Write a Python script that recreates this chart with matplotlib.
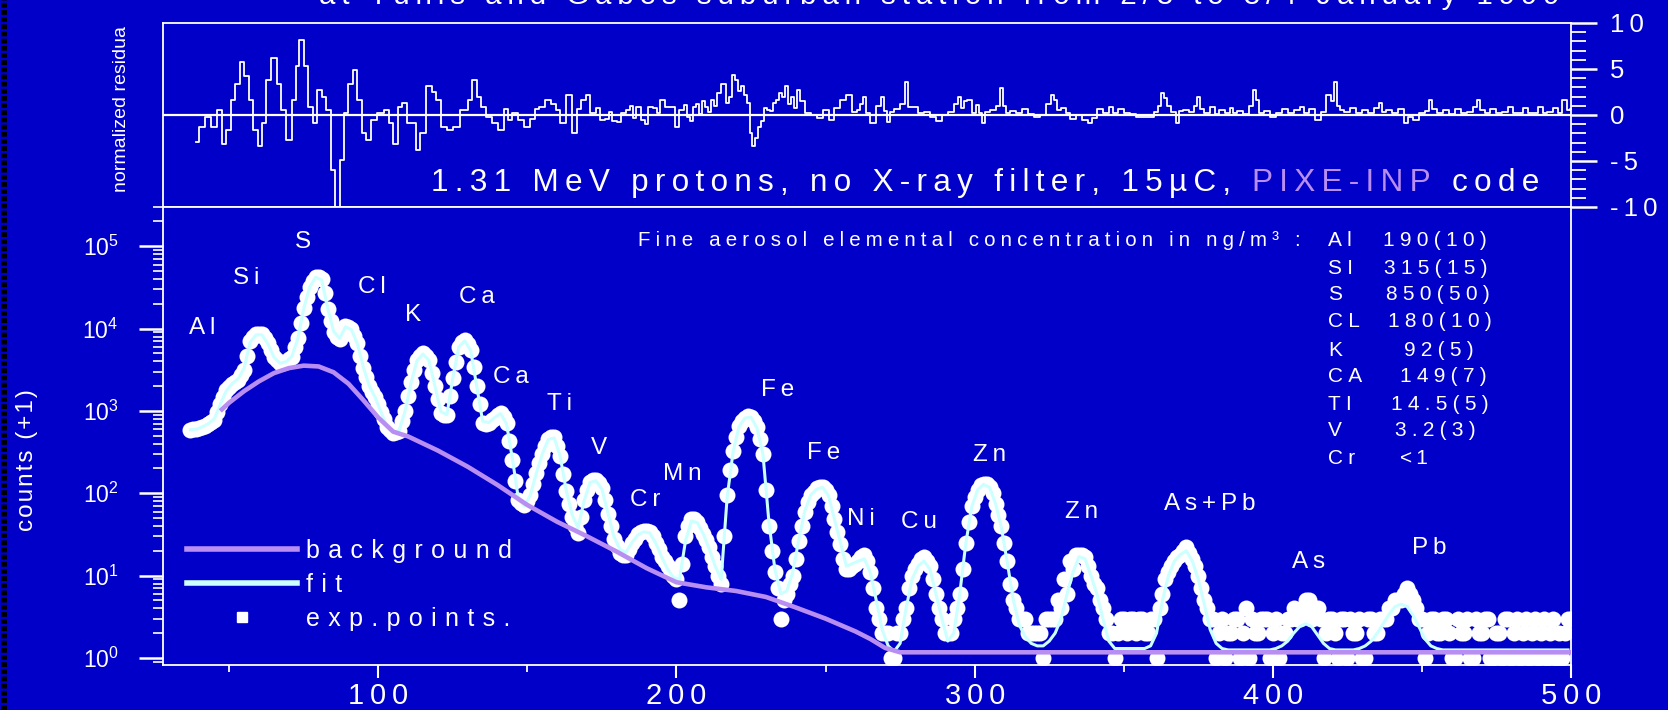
import numpy as np
import matplotlib
matplotlib.use('Agg')
import matplotlib.pyplot as plt
from matplotlib.lines import Line2D
from matplotlib.ticker import FixedLocator, FuncFormatter, LogLocator, NullFormatter

# ---------------------------------------------------------------- data
channels = list(range(37, 500, 2))          # odd channels
exp_counts = [
    590, 600, 630, 690, 780, 1230, 1780, 2140, 2400, 3160,
    7080, 8500, 8500, 6600, 4570, 3800, 3980, 4570, 7600, 17800,
    31600, 42700, 39800, 17400, 9100, 7400, 10700, 9800, 6600, 3300,
    2000, 1480, 980, 630, 540, 575, 1000, 2240, 4170, 5000,
    4170, 2000, 950, 890, 2510, 6030, 7240, 5500, 2000, 720,
    720, 830, 950, 710, 250, 83, 72, 95, 178, 300,
    457, 480, 280, 107, 52, 33, 83, 138, 145, 115,
    56, 28, 19, 18, 25, 32, 35, 34, 25, 17,
    13, 10, 5, 30, 48, 45, 32, 22, 13, 8,
    95, 330, 660, 830, 850, 630, 300, 40, 11, 3,
    6, 10, 26, 60, 95, 115, 120, 95, 48, 24,
    12, 13, 15, 18, 11, 4, 2, 2, 1, 2,
    4, 10, 14, 17, 13, 6, 3, 2, 3, 6,
    25, 70, 110, 130, 120, 75, 40, 15, 5, 3,
    3, 2, 2, 1, 3, 3, 4, 6, 12, 18,
    17, 10, 7, 4, 2, 1, 3, 2, 3, 3,
    2, 3, 1, 6, 11, 15, 18, 22, 16, 10,
    5, 3, 1, 3, 2, 3, 1, 4, 3, 2,
    3, 1, 3, 2, 3, 4, 3, 5, 3, 4,
    1, 3, 2, 3, 1, 2, 3, 1, 3, 2,
    3, 4, 5, 5, 7, 5, 3, 1, 3, 2,
    3, 2, 1, 2, 3, 1, 2, 3, 1, 2,
    1, 3, 2, 1, 3, 2, 1, 3, 2, 1,
    1, 3]
channels_even = list(range(38, 501, 2))     # even channels
exp_counts_even = [
    595, 615, 660, 730, 980, 1480, 1950, 2270, 2750, 4700,
    7900, 8700, 7600, 5500, 4100, 3850, 4250, 5900, 11600, 24000,
    37500, 42000, 27000, 12500, 8000, 9000, 10500, 8200, 4700, 2600,
    1720, 1200, 790, 580, 550, 760, 1500, 3100, 4700, 4700,
    2900, 1380, 900, 1500, 3900, 6800, 6500, 3400, 1200, 700,
    770, 900, 850, 430, 140, 76, 80, 130, 235, 380,
    480, 380, 170, 75, 40, 52, 110, 145, 132, 82,
    40, 23, 18, 21, 28, 34, 35, 30, 21, 15,
    11, 9, 14, 40, 48, 38, 27, 17, 10, 30,
    190, 480, 760, 860, 760, 450, 110, 20, 7, 5,
    8, 16, 40, 78, 105, 120, 110, 70, 34, 16,
    12, 14, 17, 15, 7, 3, 2, 1, 2, 3,
    7, 12, 16, 15, 9, 4, 2, 2, 4, 12,
    45, 90, 125, 128, 100, 55, 25, 8, 4, 3,
    2, 2, 2, 3, 3, 5, 9, 15, 18, 18,
    13, 8, 5, 3, 2, 2, 3, 3, 2, 3,
    2, 3, 4, 9, 13, 17, 20, 19, 13, 7,
    4, 3, 2, 1, 2, 3, 2, 1, 2, 3,
    3, 2, 1, 2, 3, 3, 4, 5, 4, 3,
    2, 3, 1, 3, 3, 2, 1, 3, 2, 3,
    3, 4, 5, 6, 6, 4, 3, 2, 3, 2,
    3, 1, 3, 2, 1, 3, 2, 3, 1, 2,
    3, 1, 3, 2, 1, 3, 2, 1, 3, 2,
    2, 3]
fit_counts = [
    590, 600, 640, 700, 800, 1200, 1750, 2150, 2450, 3300,
    6800, 8400, 8400, 6500, 4500, 3800, 3950, 4600, 7500, 17500,
    32000, 42000, 39000, 18000, 9300, 7600, 10500, 9700, 6500, 3400,
    2000, 1450, 950, 640, 545, 580, 1000, 2200, 4100, 4900,
    4100, 2000, 980, 900, 2500, 6000, 7100, 5400, 2000, 750,
    720, 830, 930, 700, 260, 85, 70, 95, 175, 300,
    450, 470, 280, 110, 55, 38, 80, 135, 142, 112,
    58, 30, 21, 19, 25, 31, 34, 33, 25, 17,
    12, 9.5, 9, 26, 46, 44, 32, 21, 13, 9,
    90, 320, 650, 820, 840, 620, 300, 45, 12, 6,
    6.5, 11, 27, 60, 95, 112, 118, 93, 48, 25,
    13, 14, 15, 16, 11, 5, 2.2, 1.4, 1.2, 1.5,
    4, 9, 13, 15, 12, 6, 3, 1.6, 2, 6,
    24, 68, 110, 128, 118, 75, 38, 14, 5, 2.5,
    1.8, 1.5, 1.4, 1.4, 1.6, 2, 3, 6, 11, 17,
    16, 10, 6, 3, 1.6, 1.3, 1.3, 1.3, 1.3, 1.3,
    1.3, 1.4, 2, 5, 10, 15, 18, 20, 15, 9,
    4.5, 2.2, 1.5, 1.3, 1.25, 1.25, 1.25, 1.25, 1.25, 1.25,
    1.25, 1.25, 1.3, 1.4, 1.6, 2.0, 2.4, 2.6, 2.4, 1.9,
    1.5, 1.3, 1.25, 1.25, 1.25, 1.25, 1.3, 1.4, 1.6, 2.0,
    2.6, 3.4, 4.2, 4.5, 4.2, 3.3, 2.4, 1.7, 1.4, 1.3,
    1.25, 1.25, 1.25, 1.25, 1.25, 1.25, 1.25, 1.25, 1.25, 1.25,
    1.25, 1.25, 1.25, 1.25, 1.25, 1.25, 1.25, 1.25, 1.25, 1.25,
    1.25, 1.25]
bg_channels = [47, 50, 55, 60, 65, 70, 75, 80, 85, 90,
               95, 100, 105, 110, 120, 130, 140, 150, 160, 170,
               180, 190, 200, 210, 220, 230, 240, 250, 260, 265,
               270, 275, 300, 350, 400, 450, 500]
bg_counts = [1000, 1260, 1740, 2290, 2880, 3310, 3550, 3470, 2950, 2140,
             1350, 830, 560, 490, 330, 210, 126, 72, 45, 30,
             19.5, 12.3, 8.3, 7.2, 6.5, 5.5, 4.1, 3.0, 2.1, 1.7,
             1.32, 1.17, 1.17, 1.17, 1.17, 1.17, 1.17]
# normalized residuals: (channel, value)
res_points = [
    (39, -2.9), (41, -1.3), (43, -0.2), (45, -1.3), (47, 0.5), (48, -3.1), (50, -1.6),
    (51, 1.6), (53, 3.4), (54, 5.8), (56, 4.2), (57, 1.6), (59, -1.6), (60, -3.4),
    (62, -0.9), (63, 3.8), (65, 6.2), (67, 3.4), (68, 0.5), (70, -2.7), (72, 1.6),
    (73, 5.3), (74, 8.2), (76, 5.3), (77, 0.9), (79, -0.9), (80, 2.7), (82, 2.0),
    (83, 0.5), (85, -6.0), (86, -10.9), (88, -4.9), (89, 0.2), (91, 3.4), (92, 4.9),
    (94, 1.6), (95, -2.0), (97, -2.7), (98, -0.5), (101, 0.2), (103, 0.5), (104, -0.9),
    (106, -3.1), (107, 0.9), (109, 1.3), (110, -0.9), (112, -0.9), (113, -3.8),
    (115, -2.0), (117, 3.1), (119, 2.5), (120, 1.6), (122, -1.3), (124, -1.6),
    (126, -1.3), (129, 0.5), (131, 1.6), (132, 3.8), (134, 2.0), (135, 0.9),
    (137, -0.2), (139, -0.9), (141, -1.6), (143, 0.6), (144, -0.5), (146, 0.2),
    (148, -0.5), (150, -1.3), (152, -0.4), (153, 0.7), (155, 0.9), (157, 1.6),
    (159, 1.2), (160, 0.5), (162, -0.9), (164, 2.2), (166, -2.0), (167, 0.6),
    (169, 1.6), (170, 2.2), (172, 0.2), (174, 0.8), (175, -0.5), (177, -0.4),
    (178, 0.3), (179, -0.7), (181, -0.8), (182, 0.2), (184, 0.5), (185, 1.0),
    (186, -0.3), (187, 0.9), (189, -0.5), (190, -1.0), (191, 0.9), (193, 0.8),
    (194, 0.2), (195, 1.6), (197, 0.9), (199, 0.9), (200, -1.3), (202, 0.5),
    (203, 1.1), (204, -0.2), (205, -0.6), (206, 0.9), (207, 1.2), (208, 0.1),
    (209, 1.5), (210, 0.9), (211, 0.3), (212, 1.6), (213, 1.0), (214, 2.4),
    (216, 3.4), (217, 1.3), (218, 2.0), (219, 4.3), (220, 3.8), (221, 2.6),
    (222, 3.1), (223, 2.2), (224, 1.3), (225, -2.0), (226, -3.4), (227, -2.5),
    (228, -1.3), (229, -0.6), (230, 0.8), (231, 0.5), (232, 0.4), (233, 1.3),
    (234, 1.6), (235, 2.4), (236, 2.0), (237, 3.1), (238, 1.2), (239, 2.0),
    (240, 0.8), (241, 2.7), (242, 1.5), (244, 0.2), (246, 0.0), (248, -0.3),
    (250, 0.5), (252, -0.5), (254, 0.8), (256, 1.6), (258, 2.2), (260, 0.3),
    (261, 0.5), (262, 1.2), (263, 2.0), (264, 0.2), (266, -0.9), (268, 1.0),
    (269, 2.0), (270, 0.4), (271, -0.8), (272, 0.3), (274, 0.6), (276, 1.2),
    (277, 3.6), (278, 0.9), (280, 0.9), (282, 0.2), (284, 0.3), (286, -0.2),
    (288, -0.6), (290, 0.0), (292, 0.3), (294, 1.2), (295, 2.0), (296, 0.8),
    (297, 1.5), (298, 1.6), (300, 0.2), (301, 1.1), (302, 0.2), (303, -0.9),
    (304, 0.3), (306, 0.5), (308, 1.0), (309, 2.9), (310, 1.0), (311, 0.2),
    (313, 0.4), (315, 0.2), (317, 0.6), (319, 0.1), (321, -0.2), (323, 0.0),
    (325, 1.2), (326, 2.2), (327, 1.6), (328, 0.5), (330, 0.8), (331, 0.2),
    (333, -0.4), (335, 0.0), (337, -0.5), (339, -0.9), (340, -0.3), (342, 0.7),
    (344, 0.2), (346, 0.9), (347, 0.2), (349, 0.6), (351, 0.2), (353, 0.1),
    (355, -0.2), (357, -0.2), (359, -0.2), (361, 0.3), (362, 1.0), (363, 2.4),
    (364, 1.8), (365, 1.0), (367, 0.3), (368, -0.9), (369, 0.4), (371, 0.5),
    (373, 0.3), (374, 1.0), (375, 2.0), (376, 0.6), (378, 0.2), (380, 0.9),
    (381, 0.1), (383, 0.5), (385, 0.2), (386, 0.8), (387, 0.2), (389, 0.4),
    (391, 0.1), (393, 1.0), (394, 2.7), (395, 1.6), (396, 0.2), (398, 0.4),
    (400, -0.2), (402, 0.2), (404, 0.7), (406, 0.2), (408, 0.5), (410, 0.9),
    (411, 0.2), (413, 0.6), (415, -0.5), (417, 0.3), (419, 2.2), (420, 1.5),
    (421, 3.6), (422, 1.0), (423, 0.5), (425, 0.3), (427, 0.8), (429, 0.2),
    (431, 0.5), (433, 0.2), (435, 0.8), (436, 1.3), (437, 0.3), (439, 0.5),
    (441, 0.2), (443, 0.6), (445, -0.9), (446, -0.2), (448, -0.5), (450, 0.2),
    (452, 0.4), (453, 1.6), (454, 0.6), (456, 0.2), (458, 0.5), (460, 0.1),
    (462, 0.6), (464, 0.2), (466, 0.3), (468, 0.9), (469, 1.6), (470, 0.5),
    (472, 0.2), (474, 0.7), (476, 0.2), (478, 0.3), (480, 0.9), (481, 0.2),
    (483, 0.2), (485, 0.8), (486, 0.2), (488, 0.2), (490, 0.9), (491, 0.2),
    (493, 0.3), (495, 0.8), (496, 0.2), (498, 1.6), (499, 0.5), (500, 0.6)]
res_channels = [p[0] for p in res_points]
res_values = [p[1] for p in res_points]

peak_labels = ['Al', 'Si', 'S', 'Cl', 'K', 'Ca', 'Ca', 'Ti', 'V', 'Cr',
               'Mn', 'Fe', 'Fe', 'Ni', 'Cu', 'Zn', 'Zn', 'As+Pb', 'As', 'Pb']
peak_label_ch = [40.9, 55.7, 74.8, 98, 111.8, 132.9, 144.5, 160.8, 173.9, 189.5,
                 202, 233.8, 249.5, 262, 281.3, 305, 335.7, 378.9, 412, 452.6]
peak_label_counts = [10200, 40700, 112000, 32400, 14800, 24000, 2570, 1230, 355, 83,
                     170, 1820, 310, 49, 45, 295, 60, 74, 14.8, 21.4]
conc_elements = ['Al', 'SI', 'S', 'CL', 'K', 'CA', 'TI', 'V', 'Cr']
conc_values = ['190(10)', '315(15)', '850(50)', '180(10)', '92(5)',
               '149(7)', '14.5(5)', '3.2(3)', '<1']
x_ticks = [100, 200, 300, 400, 500]
x_minor = [50, 150, 250, 350, 450]
y_ticks = [1, 10, 100, 1000, 10000, 100000]
res_ticks = [-10, -5, 0, 5, 10]
legend_labels = ['background', 'fit', 'exp.points.']
title_text = 'at Tunis and Gabes suburban station from 2/3 to 3/4 January 1999'
info_parts = ['1.31 MeV protons, no X-ray filter, 15\u00b5C, ', 'PIXE-INP', ' code']
conc_title = 'Fine aerosol elemental concentration in ng/m\u00b3 :'

# ---------------------------------------------------------------- style
BLUE = '#0000C8'
LAV = '#B98EF2'
CYAN = '#CCFFFF'
WHITE = '#FFFFFF'
THIN = '\u2009'
plt.rcParams['font.family'] = ['Liberation Sans', 'DejaVu Sans']

W, H = 1668, 710
fig = plt.figure(figsize=(W / 100, H / 100), dpi=100)
fig.patch.set_facecolor(BLUE)
RND = fig.canvas.get_renderer()


def fxy(x, y):
    return x / W, 1 - y / H


SEPS = ['', '\u200a', '\u2009', '\u2005', '\u2004', '\u2002', '\u2003']


def text_w(s, **kw):
    t = fig.text(0, 0, s, **kw)
    w = t.get_window_extent(RND).width
    t.remove()
    return w


def pick_sep(s, target, **kw):
    return min(SEPS, key=lambda sp: abs(text_w(sp.join(s), **kw) - target))


def advance(s, **kw):
    return text_w(s + '|', **kw) - text_w('|', **kw)


def tracked(x, y, s, target, fontsize, exact=False, **kw):
    sep = pick_sep(s, target, fontsize=fontsize, **kw)
    txt = sep.join(s)
    if exact:
        fontsize = fontsize * target / text_w(txt, fontsize=fontsize, **kw)
    return fig.text(*fxy(x, y), txt, fontsize=fontsize, **kw)


L_PX, R_PX = 163, 1571
RES_TOP, SEP_Y, MAIN_BOT = 23, 207, 665

ax_res = fig.add_axes([L_PX / W, 1 - SEP_Y / H, (R_PX - L_PX) / W, (SEP_Y - RES_TOP) / H])
ax = fig.add_axes([L_PX / W, 1 - MAIN_BOT / H, (R_PX - L_PX) / W, (MAIN_BOT - SEP_Y) / H])

for a in (ax, ax_res):
    a.set_facecolor(BLUE)
    for s in a.spines.values():
        s.set_color(WHITE)
        s.set_linewidth(1.3)

# ---------------------------------------------------------------- main spectrum
ax.set_yscale('log')
ax.set_xlim(27.8, 500)
ax.set_ylim(0.82, 3e5)
ax.plot(channels + channels_even, exp_counts + exp_counts_even, ls='none', marker='o',
        ms=11.5, mfc=WHITE, mec=WHITE, mew=0, zorder=3)
ax.plot(channels, fit_counts, color=CYAN, lw=2.2, zorder=4)
ax.plot(bg_channels, bg_counts, color=LAV, lw=3.3, zorder=5, solid_capstyle='butt')

ax.xaxis.set_major_locator(FixedLocator(x_ticks))
ax.xaxis.set_minor_locator(FixedLocator(x_minor))
ax.xaxis.set_major_formatter(FuncFormatter(lambda v, p: THIN.join(str(int(v)))))
ax.yaxis.set_major_locator(FixedLocator(y_ticks))
ax.yaxis.set_minor_locator(LogLocator(base=10, subs=np.arange(2, 10), numticks=30))
ax.yaxis.set_minor_formatter(NullFormatter())
ax.yaxis.set_major_formatter(FuncFormatter(
    lambda v, p: r'$\mathregular{10^{%d}}$' % int(round(np.log10(v)))))
ax.tick_params(axis='x', which='major', direction='out', length=9.5, width=1.5,
               colors=WHITE, labelsize=21, pad=3)
ax.tick_params(axis='x', which='minor', direction='out', length=5, width=1.3, colors=WHITE)
ax.tick_params(axis='y', which='major', direction='out', length=17, width=1.8,
               colors=WHITE, labelsize=16.5, pad=15)
ax.tick_params(axis='y', which='minor', direction='out', length=7.5, width=1.2, colors=WHITE)

for lbl, c, n in zip(peak_labels, peak_label_ch, peak_label_counts):
    ax.text(c, n, THIN.join(lbl), color=WHITE, fontsize=17.5, ha='center', va='center',
            zorder=6)

leg_sep = pick_sep(legend_labels[0], 200, fontsize=18)
handles = [Line2D([], [], color=LAV, lw=4),
           Line2D([], [], color=CYAN, lw=4),
           Line2D([], [], ls='none', marker='s', ms=6.5, mfc=WHITE, mec=WHITE)]
leg = ax.legend(handles, [leg_sep.join(t) for t in legend_labels],
                loc='upper left', bbox_to_anchor=fxy(187, 539), bbox_transform=fig.transFigure,
                frameon=False, fontsize=18, labelcolor=WHITE, handlelength=4.4,
                handletextpad=0.35, labelspacing=0.4, borderpad=0, borderaxespad=0,
                numpoints=1)

# ---------------------------------------------------------------- residual panel
ax_res.set_xlim(27.8, 500)
ax_res.set_ylim(-10, 10)
ax_res.axhline(0, color=WHITE, lw=1.6, zorder=2)
ax_res.plot(res_channels, res_values, color=WHITE, lw=1.3, drawstyle='steps-mid',
            clip_on=False, zorder=3)
ax_res.tick_params(axis='x', which='both', bottom=False, top=False, labelbottom=False)
ax_res.yaxis.tick_right()
ax_res.yaxis.set_major_locator(FixedLocator(res_ticks))
ax_res.yaxis.set_minor_locator(FixedLocator(list(range(-10, 11))))
ax_res.yaxis.set_major_formatter(FuncFormatter(lambda v, p: THIN.join(str(int(v)))))
ax_res.tick_params(axis='y', which='major', direction='out', length=19, width=1.8,
                   colors=WHITE, labelsize=18.5, pad=9)
ax_res.tick_params(axis='y', which='minor', direction='out', length=11, width=1.3,
                   colors=WHITE)

# ---------------------------------------------------------------- texts
# title (cut by the top edge, as in the original image)
tracked(319, 4.5, title_text, 1238, 22, exact=True, color=WHITE, ha='left', va='baseline')

# info line inside the residual panel
info_kw = dict(ha='left', va='baseline')
full_info = ''.join(info_parts)
sep = pick_sep(full_info, 1110, fontsize=22, **info_kw)
info_fs = 22 * 1110 / text_w(sep.join(full_info), fontsize=22, **info_kw)
x = 431
for i, (p, col) in enumerate(zip(info_parts, [WHITE, LAV, WHITE])):
    s = sep.join(p) + (sep if i < len(info_parts) - 1 else '')
    fig.text(*fxy(x, 191), s, color=col, fontsize=info_fs, **info_kw)
    x += advance(s, fontsize=info_fs, **info_kw)

# concentration table
tracked(638, 245.5, conc_title, 662, 14.5, exact=True, color=WHITE, ha='left',
        va='baseline')
row_y = [239, 266, 293, 320, 348, 375, 403, 429, 457]
val_x = [1383, 1384, 1386, 1388, 1404, 1400, 1391, 1395, 1400]
val_w = [109, 108, 107, 108, 73, 91, 98, 82, 27]
for el, v, yy, vx, vw in zip(conc_elements, conc_values, row_y, val_x, val_w):
    fig.text(*fxy(1328, yy + 7.5), '\u2005'.join(el), fontsize=15, color=WHITE,
             ha='left', va='baseline')
    tracked(vx, yy + 7.5, v, vw, 15, color=WHITE, ha='left', va='baseline')

# axis labels
s1 = pick_sep('counts (+1)', 147, fontsize=17.5)
fig.text(*fxy(27, 460), s1.join('counts (+1)'), rotation=90, fontsize=17.5, color=WHITE,
         ha='center', va='center')
s2 = pick_sep('normalized residua', 168, fontsize=14)
fig.text(*fxy(122, 109), s2.join('normalized residua'), rotation=90, fontsize=14,
         color=WHITE, ha='center', va='center')

# dotted black strip on the left edge
fig.add_artist(Line2D([4 / W, 4 / W], [0, 1], transform=fig.transFigure, color='black',
                      lw=4.3, linestyle=(0, (0.8, 0.4))))

fig.savefig('out.png', dpi=100, facecolor=BLUE)
